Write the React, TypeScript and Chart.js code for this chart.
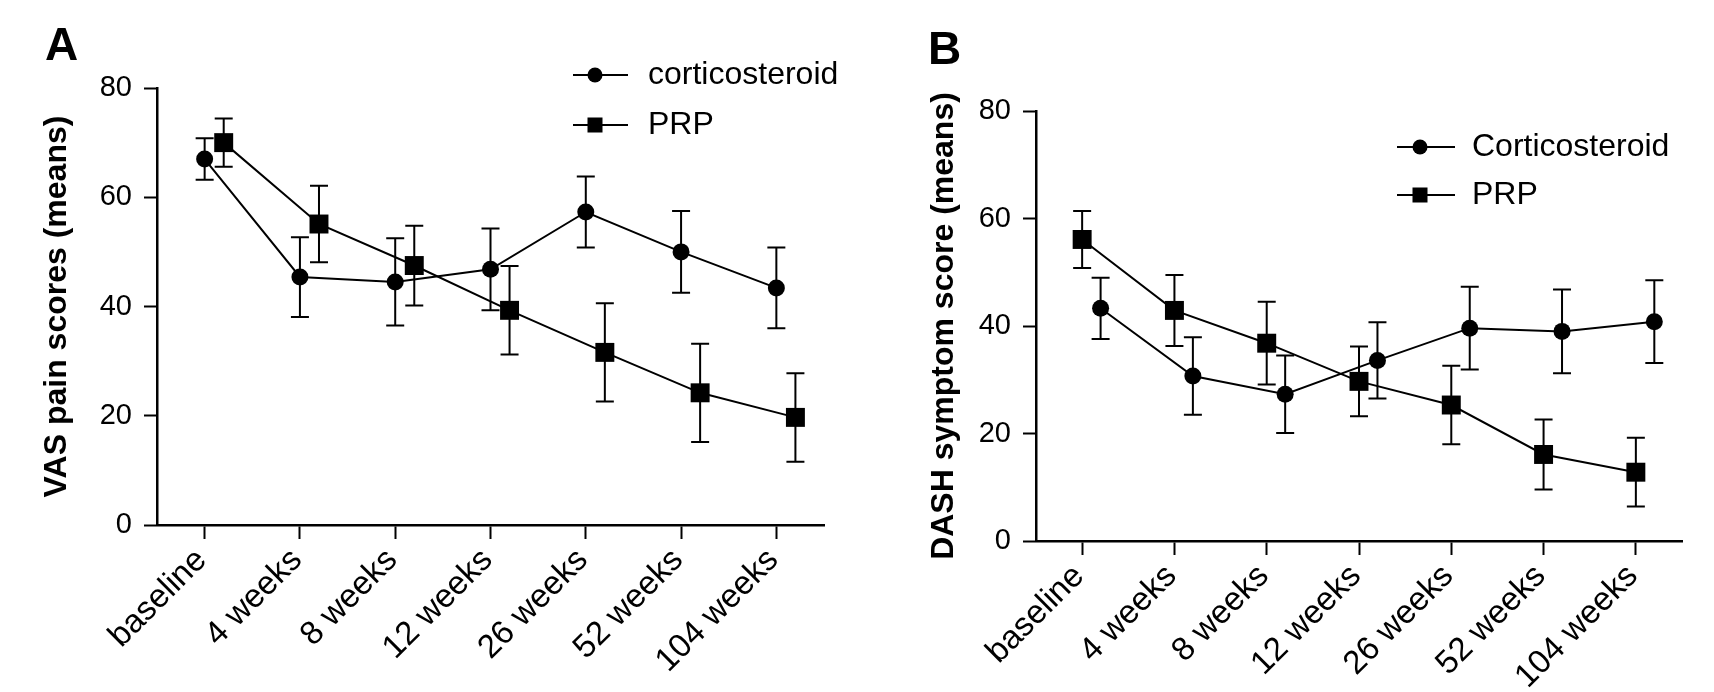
import React, { useEffect, useRef } from 'react';
import { Chart, registerables } from 'chart.js';

Chart.register(...registerables);

const FONT = "'Liberation Sans', Arial, Helvetica, sans-serif";
Chart.defaults.font.family = FONT;
Chart.defaults.color = '#000';

// ---- data ----
const categories = ['baseline', '4 weeks', '8 weeks', '12 weeks', '26 weeks', '52 weeks', '104 weeks'];
const yTickValues = [0, 20, 40, 60, 80];

const vasCorticoMeans = [67, 45.4, 44.5, 46.8, 57.3, 50, 43.4];
const vasCorticoErr = [3.8, 7.3, 8, 7.5, 6.5, 7.5, 7.4];
const vasPrpMeans = [70, 55.1, 47.5, 39.3, 31.6, 24.2, 19.7];
const vasPrpErr = [4.4, 7, 7.3, 8.1, 9, 9, 8.1];

const dashCorticoMeans = [43.3, 30.7, 27.3, 33.6, 39.6, 39, 40.8];
const dashCorticoErr = [5.7, 7.2, 7.2, 7.1, 7.7, 7.8, 7.7];
const dashPrpMeans = [56.1, 42.9, 36.8, 29.7, 25.3, 16.1, 12.8];
const dashPrpErr = [5.3, 6.6, 7.7, 6.5, 7.3, 6.5, 6.4];

type Series = { label: string; means: number[]; errs: number[]; shape: 'circle' | 'rect'; offset: number };
type Panel = {
  letter: string;
  letterX: number;
  letterY: number;
  yTitle: string;
  series: Series[];
  areaLeft: number;
  padRight: number;
  areaTop: number;
  xAxisHeight: number;
  titlePad: number;
  legend: { lineX1: number; lineX2: number; markerX: number; textX: number; rows: number[] };
};

const panelA: Panel = {
  letter: 'A',
  letterX: 45,
  letterY: 60,
  yTitle: 'VAS pain scores (means)',
  series: [
    { label: 'corticosteroid', means: vasCorticoMeans, errs: vasCorticoErr, shape: 'circle', offset: 0 },
    { label: 'PRP', means: vasPrpMeans, errs: vasPrpErr, shape: 'rect', offset: 0.2 },
  ],
  areaLeft: 157,
  padRight: 33,
  areaTop: 88,
  xAxisHeight: 167,
  titlePad: 38,
  legend: { lineX1: 573, lineX2: 628, markerX: 595, textX: 648, rows: [75, 125] },
};

const panelB: Panel = {
  letter: 'B',
  letterX: 71,
  letterY: 64,
  yTitle: 'DASH symptom score (means)',
  series: [
    { label: 'Corticosteroid', means: dashCorticoMeans, errs: dashCorticoErr, shape: 'circle', offset: 0.2 },
    { label: 'PRP', means: dashPrpMeans, errs: dashPrpErr, shape: 'rect', offset: 0 },
  ],
  areaLeft: 179,
  padRight: 32,
  areaTop: 111,
  xAxisHeight: 151,
  titlePad: 68,
  legend: { lineX1: 540, lineX2: 598, markerX: 563, textX: 615, rows: [147, 195] },
};

const errorBarPlugin = {
  id: 'errorBars',
  beforeDatasetsDraw(chart: any, _args: any, opts: any) {
    const ctx = chart.ctx;
    const xs = chart.scales.x;
    const ys = chart.scales.y;
    const list: Series[] = opts.series || [];
    ctx.save();
    ctx.strokeStyle = '#000';
    ctx.lineWidth = 2;
    list.forEach((s) => {
      s.means.forEach((m, i) => {
        const px = xs.getPixelForValue(i + s.offset);
        const top = ys.getPixelForValue(m + s.errs[i]);
        const bot = ys.getPixelForValue(m - s.errs[i]);
        ctx.beginPath();
        ctx.moveTo(px, top);
        ctx.lineTo(px, bot);
        ctx.moveTo(px - 9, top);
        ctx.lineTo(px + 9, top);
        ctx.moveTo(px - 9, bot);
        ctx.lineTo(px + 9, bot);
        ctx.stroke();
      });
    });
    ctx.restore();
  },
};

const decorPlugin = {
  id: 'decor',
  afterDraw(chart: any, _args: any, opts: any) {
    const p: Panel = opts.panel;
    if (!p) return;
    const ctx = chart.ctx;
    ctx.save();
    ctx.fillStyle = '#000';
    ctx.strokeStyle = '#000';
    ctx.textAlign = 'left';
    ctx.textBaseline = 'alphabetic';
    ctx.font = `bold 46px ${FONT}`;
    ctx.fillText(p.letter, p.letterX, p.letterY);
    const L = p.legend;
    p.series.forEach((s, k) => {
      const y = L.rows[k];
      ctx.lineWidth = 2;
      ctx.beginPath();
      ctx.moveTo(L.lineX1, y);
      ctx.lineTo(L.lineX2, y);
      ctx.stroke();
      if (s.shape === 'circle') {
        ctx.beginPath();
        ctx.arc(L.markerX, y, 7.5, 0, Math.PI * 2);
        ctx.fill();
      } else {
        ctx.fillRect(L.markerX - 7.5, y - 7.5, 15, 15);
      }
      ctx.font = `32px ${FONT}`;
      ctx.textBaseline = 'middle';
      ctx.fillText(s.label, L.textX, y);
    });
    ctx.restore();
  },
};

function buildChart(canvas: HTMLCanvasElement, p: Panel) {
  const datasets = p.series.map((s) => ({
    label: s.label,
    data: s.means.map((v, i) => ({ x: i + s.offset, y: v })),
    borderColor: '#000',
    backgroundColor: '#000',
    borderWidth: 2,
    pointStyle: s.shape,
    pointRadius: s.shape === 'circle' ? 8.5 : 13.4,
    pointBorderWidth: 0,
    pointBackgroundColor: '#000',
    showLine: true,
    tension: 0,
    fill: false,
  }));
  return new Chart(canvas, {
    type: 'line',
    data: { datasets },
    plugins: [errorBarPlugin, decorPlugin],
    options: {
      animation: false,
      responsive: true,
      maintainAspectRatio: false,
      layout: { padding: { left: 0, right: p.padRight, top: p.areaTop, bottom: 0 } },
      plugins: {
        legend: { display: false },
        tooltip: { enabled: false },
        errorBars: { series: p.series },
        decor: { panel: p },
      } as any,
      scales: {
        x: {
          type: 'linear',
          min: -0.5,
          max: categories.length - 0.5,
          afterBuildTicks: (s: any) => {
            s.ticks = categories.map((_, i) => ({ value: i }));
          },
          afterFit: (s: any) => {
            s.height = p.xAxisHeight;
          },
          ticks: {
            autoSkip: false,
            minRotation: 45,
            maxRotation: 45,
            padding: 2,
            labelOffset: -3,
            color: '#000',
            font: { size: 33, family: FONT },
            callback: (v: any) => categories[v] ?? '',
          },
          grid: { drawOnChartArea: false, drawTicks: true, tickLength: 14, tickWidth: 2, tickColor: '#000' },
          border: { display: true, color: '#000', width: 2.5 },
        },
        y: {
          type: 'linear',
          min: 0,
          max: 80,
          afterBuildTicks: (s: any) => {
            s.ticks = yTickValues.map((v) => ({ value: v }));
          },
          afterFit: (s: any) => {
            s.width = p.areaLeft;
          },
          ticks: { padding: 12, color: '#000', font: { size: 29, family: FONT } },
          grid: { drawOnChartArea: false, drawTicks: true, tickLength: 13, tickWidth: 2, tickColor: '#000' },
          border: { display: true, color: '#000', width: 2.5 },
          title: {
            display: true,
            text: p.yTitle,
            color: '#000',
            font: { size: 32, weight: 'bold', family: FONT },
            padding: { top: p.titlePad, bottom: 0 },
          },
        },
      },
    } as any,
  });
}

function PanelChart({ panel, left }: { panel: Panel; left: number }) {
  const ref = useRef<HTMLCanvasElement | null>(null);
  useEffect(() => {
    if (!ref.current) return;
    const c = buildChart(ref.current, panel);
    return () => c.destroy();
  }, [panel]);
  return (
    <div style={{ position: 'absolute', left, top: 0, width: 857, height: 692 }}>
      <canvas ref={ref} />
    </div>
  );
}

export default function App() {
  return (
    <div style={{ position: 'fixed', left: 0, top: 0, width: 1714, height: 692, background: '#fff' }}>
      <PanelChart panel={panelA} left={0} />
      <PanelChart panel={panelB} left={857} />
    </div>
  );
}
